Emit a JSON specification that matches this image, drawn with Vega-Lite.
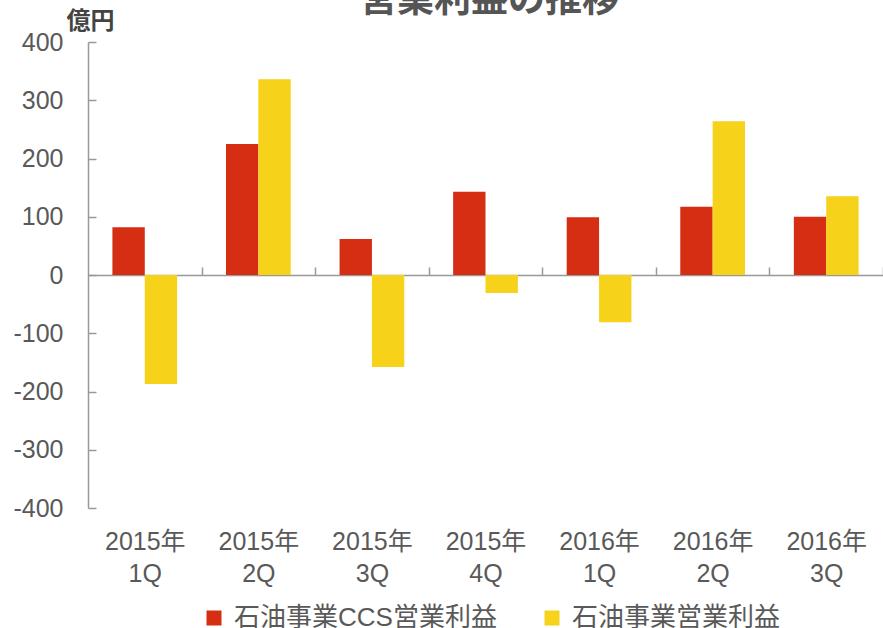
{
  "$schema": "https://vega.github.io/schema/vega-lite/v6.json",
  "width": 795,
  "height": 466,
  "autosize": {"type": "none"},
  "padding": {"left": 88, "top": 42, "right": 0, "bottom": 120},
  "background": "white",
  "config": {
    "font": "Liberation Sans, Noto Sans CJK JP",
    "view": {"stroke": null}
  },
  "title": {
    "text": "営業利益の推移",
    "fontSize": 37,
    "fontWeight": "bold",
    "color": "#555555",
    "anchor": "middle",
    "baseline": "bottom",
    "offset": -48,
    "dx": 4
  },
  "data": {
    "values": [
      {"quarter": "2015年|1Q", "series": "石油事業CCS営業利益", "value": 82},
      {"quarter": "2015年|1Q", "series": "石油事業営業利益", "value": -187},
      {"quarter": "2015年|2Q", "series": "石油事業CCS営業利益", "value": 225},
      {"quarter": "2015年|2Q", "series": "石油事業営業利益", "value": 336},
      {"quarter": "2015年|3Q", "series": "石油事業CCS営業利益", "value": 62},
      {"quarter": "2015年|3Q", "series": "石油事業営業利益", "value": -158},
      {"quarter": "2015年|4Q", "series": "石油事業CCS営業利益", "value": 143},
      {"quarter": "2015年|4Q", "series": "石油事業営業利益", "value": -31},
      {"quarter": "2016年|1Q", "series": "石油事業CCS営業利益", "value": 99},
      {"quarter": "2016年|1Q", "series": "石油事業営業利益", "value": -81},
      {"quarter": "2016年|2Q", "series": "石油事業CCS営業利益", "value": 117},
      {"quarter": "2016年|2Q", "series": "石油事業営業利益", "value": 264},
      {"quarter": "2016年|3Q", "series": "石油事業CCS営業利益", "value": 100},
      {"quarter": "2016年|3Q", "series": "石油事業営業利益", "value": 135}
    ]
  },
  "mark": {"type": "bar"},
  "encoding": {
    "x": {
      "field": "quarter",
      "type": "nominal",
      "sort": null,
      "scale": {"paddingInner": 0.43, "paddingOuter": 0.215},
      "axis": {
        "title": null,
        "orient": "bottom",
        "offset": -233,
        "domainColor": "#999999",
        "domainWidth": 1.5,
        "tickColor": "#999999",
        "tickWidth": 1.5,
        "tickSize": -8,
        "tickOffset": 56.8,
        "labelOffset": -56.8,
        "labelAngle": 0,
        "labelFontSize": 25,
        "labelColor": "#595959",
        "labelPadding": 262,
        "labelBaseline": "top",
        "labelLineHeight": 32,
        "labelExpr": "split(datum.label, '|')"
      }
    },
    "xOffset": {
      "field": "series",
      "type": "nominal",
      "sort": ["石油事業CCS営業利益", "石油事業営業利益"],
      "scale": {"paddingInner": 0, "paddingOuter": 0}
    },
    "y": {
      "field": "value",
      "type": "quantitative",
      "scale": {"domain": [-400, 400], "nice": false},
      "axis": {
        "values": [-400, -300, -200, -100, 0, 100, 200, 300, 400],
        "grid": false,
        "domainColor": "#999999",
        "domainWidth": 1.5,
        "tickColor": "#999999",
        "tickWidth": 1.5,
        "tickSize": -8,
        "labelPadding": 33,
        "labelFontSize": 25,
        "labelColor": "#595959",
        "labelExpr": "replace(datum.label, '−', '-')",
        "title": "億円",
        "titleAngle": 0,
        "titleAlign": "left",
        "titleBaseline": "bottom",
        "titleX": -22,
        "titleY": -9,
        "titleFontSize": 24,
        "titleFontWeight": "bold",
        "titleColor": "#444444"
      }
    },
    "color": {
      "field": "series",
      "type": "nominal",
      "sort": ["石油事業CCS営業利益", "石油事業営業利益"],
      "scale": {"domain": ["石油事業CCS営業利益", "石油事業営業利益"], "range": ["#D52E12", "#F6D21B"]},
      "legend": {
        "title": null,
        "orient": "none",
        "direction": "horizontal",
        "legendX": 113,
        "legendY": 563,
        "padding": 0,
        "symbolType": "square",
        "symbolSize": 225,
        "symbolStrokeWidth": 0,
        "symbolOpacity": 1,
        "labelFontSize": 26,
        "labelColor": "#595959",
        "labelOffset": 7,
        "columnPadding": 42,
        "labelLimit": 400
      }
    }
  }
}
